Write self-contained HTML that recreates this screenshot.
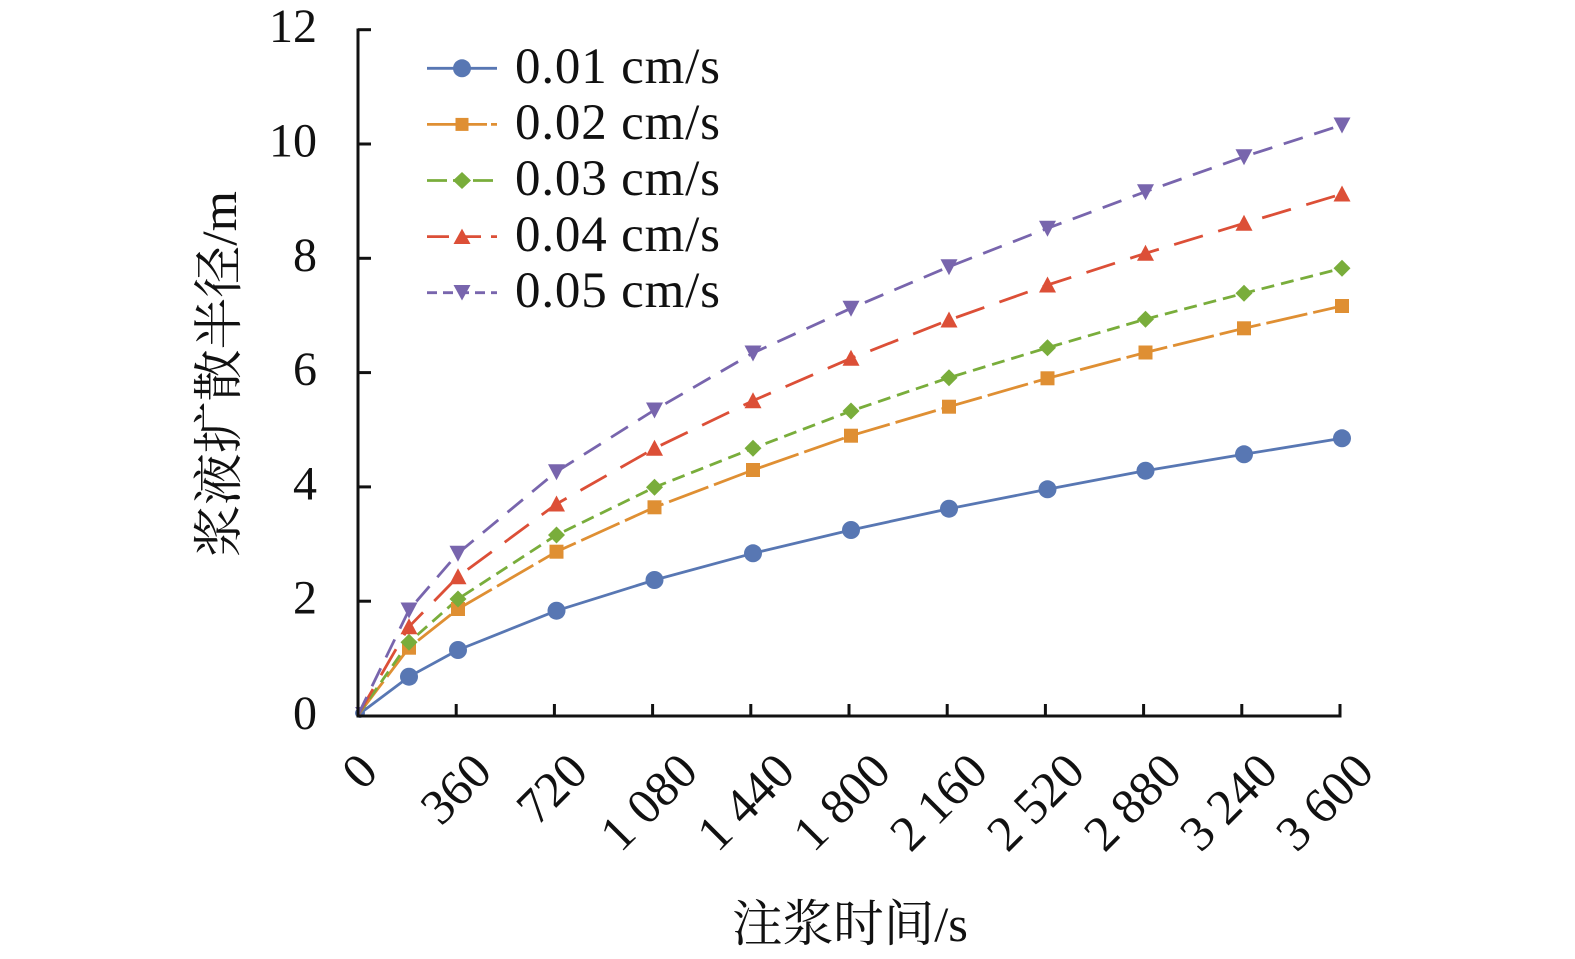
<!DOCTYPE html>
<html>
<head>
<meta charset="utf-8">
<style>
  html, body { margin: 0; padding: 0; background: #fff; }
  svg { display: block; }
  text { font-family: "Liberation Serif", "Noto Serif CJK SC", serif; fill: #111; }
</style>
</head>
<body>
<svg width="1575" height="959" viewBox="0 0 1575 959" xmlns="http://www.w3.org/2000/svg">
  <rect width="1575" height="959" fill="#fff"/>

  <!-- Origin markers (small, under axes) -->
  <circle cx="360" cy="713" r="5" fill="#5877b3"/>
  <polygon points="355,707 367,707 361,716" fill="#7865ad"/>

  <!-- Series lines -->
  <g fill="none" stroke-width="2.8" stroke-linejoin="round">
    <polyline stroke="#5877b3" points="358,715 409,676.7 458,650 556.5,610.7 654.5,580 753,553.3 851,530 949,508.7 1047.5,489.3 1145.5,470.7 1244,454.3 1342,438.3"/>
    <polyline stroke="#df8f33" stroke-dasharray="42 6" points="358,715 409,647.7 458,609 556.5,551.7 654.5,507.3 753,470 851,435.7 949,406.7 1047.5,378.3 1145.5,352.5 1244,328.3 1342,306"/>
    <polyline stroke="#79ad3b" stroke-dasharray="13 7" points="358,715 409,642.3 458,599 556.5,535 654.5,487.3 753,448.3 851,411 949,377.7 1047.5,347.7 1145.5,319.2 1244,293.3 1342,268.3"/>
    <polyline stroke="#dc4f37" stroke-dasharray="30 16" points="358,715 409,626.7 458,576.7 556.5,504 654.5,448.3 753,400.7 851,358.3 949,320 1047.5,285 1145.5,253.3 1244,223.3 1342,194"/>
    <polyline stroke="#7865ad" stroke-dasharray="20 12" points="358,715 409,610 458,553.3 556.5,471.7 654.5,410 753,353 851,308.3 949,266.7 1047.5,228.3 1145.5,191.7 1244,156.7 1342,125"/>
  </g>

  <!-- Blue circles -->
  <g fill="#5877b3">
    <circle cx="409" cy="676.7" r="9"/>
    <circle cx="458" cy="650" r="9"/>
    <circle cx="556.5" cy="610.7" r="9"/>
    <circle cx="654.5" cy="580" r="9"/>
    <circle cx="753" cy="553.3" r="9"/>
    <circle cx="851" cy="530" r="9"/>
    <circle cx="949" cy="508.7" r="9"/>
    <circle cx="1047.5" cy="489.3" r="9"/>
    <circle cx="1145.5" cy="470.7" r="9"/>
    <circle cx="1244" cy="454.3" r="9"/>
    <circle cx="1342" cy="438.3" r="9"/>
  </g>

  <!-- Orange squares -->
  <g fill="#df8f33">
    <rect x="402" y="640.7" width="14" height="14"/>
    <rect x="451" y="602" width="14" height="14"/>
    <rect x="549.5" y="544.7" width="14" height="14"/>
    <rect x="647.5" y="500.3" width="14" height="14"/>
    <rect x="746" y="463" width="14" height="14"/>
    <rect x="844" y="428.7" width="14" height="14"/>
    <rect x="942" y="399.7" width="14" height="14"/>
    <rect x="1040.5" y="371.3" width="14" height="14"/>
    <rect x="1138.5" y="345.5" width="14" height="14"/>
    <rect x="1237" y="321.3" width="14" height="14"/>
    <rect x="1335" y="299" width="14" height="14"/>
  </g>

  <!-- Green diamonds -->
  <g fill="#79ad3b">
    <polygon points="409,633.8 417.5,642.3 409,650.8 400.5,642.3"/>
    <polygon points="458,590.5 466.5,599 458,607.5 449.5,599"/>
    <polygon points="556.5,526.5 565,535 556.5,543.5 548,535"/>
    <polygon points="654.5,478.8 663,487.3 654.5,495.8 646,487.3"/>
    <polygon points="753,439.8 761.5,448.3 753,456.8 744.5,448.3"/>
    <polygon points="851,402.5 859.5,411 851,419.5 842.5,411"/>
    <polygon points="949,369.2 957.5,377.7 949,386.2 940.5,377.7"/>
    <polygon points="1047.5,339.2 1056,347.7 1047.5,356.2 1039,347.7"/>
    <polygon points="1145.5,310.7 1154,319.2 1145.5,327.7 1137,319.2"/>
    <polygon points="1244,284.8 1252.5,293.3 1244,301.8 1235.5,293.3"/>
    <polygon points="1342,259.8 1350.5,268.3 1342,276.8 1333.5,268.3"/>
  </g>

  <!-- Red up-triangles -->
  <g fill="#dc4f37">
    <polygon points="409,618.2 417.5,634.2 400.5,634.2"/>
    <polygon points="458,568.2 466.5,584.2 449.5,584.2"/>
    <polygon points="556.5,495.5 565,511.5 548,511.5"/>
    <polygon points="654.5,439.8 663,455.8 646,455.8"/>
    <polygon points="753,392.2 761.5,408.2 744.5,408.2"/>
    <polygon points="851,349.8 859.5,365.8 842.5,365.8"/>
    <polygon points="949,311.5 957.5,327.5 940.5,327.5"/>
    <polygon points="1047.5,276.5 1056,292.5 1039,292.5"/>
    <polygon points="1145.5,244.8 1154,260.8 1137,260.8"/>
    <polygon points="1244,214.8 1252.5,230.8 1235.5,230.8"/>
    <polygon points="1342,185.5 1350.5,201.5 1333.5,201.5"/>
  </g>

  <!-- Purple down-triangles -->
  <g fill="#7865ad">
    <polygon points="400.5,602.5 417.5,602.5 409,618.5"/>
    <polygon points="449.5,545.8 466.5,545.8 458,561.8"/>
    <polygon points="548,464.2 565,464.2 556.5,480.2"/>
    <polygon points="646,402.5 663,402.5 654.5,418.5"/>
    <polygon points="744.5,345.5 761.5,345.5 753,361.5"/>
    <polygon points="842.5,300.8 859.5,300.8 851,316.8"/>
    <polygon points="940.5,259.2 957.5,259.2 949,275.2"/>
    <polygon points="1039,220.8 1056,220.8 1047.5,236.8"/>
    <polygon points="1137,184.2 1154,184.2 1145.5,200.2"/>
    <polygon points="1235.5,149.2 1252.5,149.2 1244,165.2"/>
    <polygon points="1333.5,117.5 1350.5,117.5 1342,133.5"/>
  </g>

  <!-- Axes -->
  <g stroke="#111" stroke-width="3" fill="none">
    <line x1="358" y1="28.5" x2="358" y2="717.5"/>
    <line x1="356.5" y1="716" x2="1341.5" y2="716"/>
    <line x1="358" y1="29.7" x2="371" y2="29.7"/>
    <line x1="358" y1="144" x2="371" y2="144"/>
    <line x1="358" y1="258.3" x2="371" y2="258.3"/>
    <line x1="358" y1="372.6" x2="371" y2="372.6"/>
    <line x1="358" y1="486.9" x2="371" y2="486.9"/>
    <line x1="358" y1="601.2" x2="371" y2="601.2"/>
    <line x1="456.2" y1="716" x2="456.2" y2="704"/>
    <line x1="554.4" y1="716" x2="554.4" y2="704"/>
    <line x1="652.6" y1="716" x2="652.6" y2="704"/>
    <line x1="750.8" y1="716" x2="750.8" y2="704"/>
    <line x1="849" y1="716" x2="849" y2="704"/>
    <line x1="947.2" y1="716" x2="947.2" y2="704"/>
    <line x1="1045.4" y1="716" x2="1045.4" y2="704"/>
    <line x1="1143.6" y1="716" x2="1143.6" y2="704"/>
    <line x1="1241.8" y1="716" x2="1241.8" y2="704"/>
    <line x1="1340" y1="716" x2="1340" y2="704"/>
  </g>

  <!-- Y tick labels -->
  <g font-size="48" text-anchor="end">
    <text x="317" y="42">12</text>
    <text x="317" y="156.5">10</text>
    <text x="317" y="270.8">8</text>
    <text x="317" y="385.1">6</text>
    <text x="317" y="499.4">4</text>
    <text x="317" y="613.7">2</text>
    <text x="317" y="729">0</text>
  </g>

  <!-- X tick labels (rotated -45) -->
  <g font-size="50" text-anchor="end">
    <text transform="translate(380,774) rotate(-45)">0</text>
    <text transform="translate(494,774) rotate(-45)">360</text>
    <text transform="translate(590,774) rotate(-45)">720</text>
    <text transform="translate(700,774) rotate(-45)">1 080</text>
    <text transform="translate(797,774) rotate(-45)">1 440</text>
    <text transform="translate(893,774) rotate(-45)">1 800</text>
    <text transform="translate(990,774) rotate(-45)">2 160</text>
    <text transform="translate(1087,774) rotate(-45)">2 520</text>
    <text transform="translate(1184,774) rotate(-45)">2 880</text>
    <text transform="translate(1280,774) rotate(-45)">3 240</text>
    <text transform="translate(1376,774) rotate(-45)">3 600</text>
  </g>

  <!-- Axis titles -->
  <text x="850" y="941" font-size="50" text-anchor="middle" textLength="236" lengthAdjust="spacingAndGlyphs">注浆时间/s</text>
  <text transform="translate(236,374) rotate(-90)" font-size="50" text-anchor="middle" textLength="366" lengthAdjust="spacingAndGlyphs">浆液扩散半径/m</text>

  <!-- Legend -->
  <g fill="none" stroke-width="2.8">
    <line x1="427" y1="68.3" x2="497" y2="68.3" stroke="#5877b3"/>
    <line x1="427" y1="124.4" x2="497" y2="124.4" stroke="#df8f33" stroke-dasharray="60 4 6 4"/>
    <line x1="427" y1="180.5" x2="497" y2="180.5" stroke="#79ad3b" stroke-dasharray="20 6 14 6"/>
    <line x1="427" y1="236.6" x2="497" y2="236.6" stroke="#dc4f37" stroke-dasharray="22 10 22 10"/>
    <line x1="427" y1="292.7" x2="497" y2="292.7" stroke="#7865ad" stroke-dasharray="10 6 10 6"/>
  </g>
  <circle cx="462" cy="68.3" r="9" fill="#5877b3"/>
  <rect x="455.5" y="117.9" width="13" height="13" fill="#df8f33"/>
  <polygon points="462,172 471,180.5 462,189 453,180.5" fill="#79ad3b"/>
  <polygon points="462,228.6 470.5,244 453.5,244" fill="#dc4f37"/>
  <polygon points="453.5,285 470.5,285 462,300.5" fill="#7865ad"/>

  <g font-size="51">
    <text x="515" y="82.8" textLength="205" lengthAdjust="spacing">0.01 cm/s</text>
    <text x="515" y="138.9" textLength="205" lengthAdjust="spacing">0.02 cm/s</text>
    <text x="515" y="195" textLength="205" lengthAdjust="spacing">0.03 cm/s</text>
    <text x="515" y="251.1" textLength="205" lengthAdjust="spacing">0.04 cm/s</text>
    <text x="515" y="307.2" textLength="205" lengthAdjust="spacing">0.05 cm/s</text>
  </g>
</svg>
</body>
</html>
